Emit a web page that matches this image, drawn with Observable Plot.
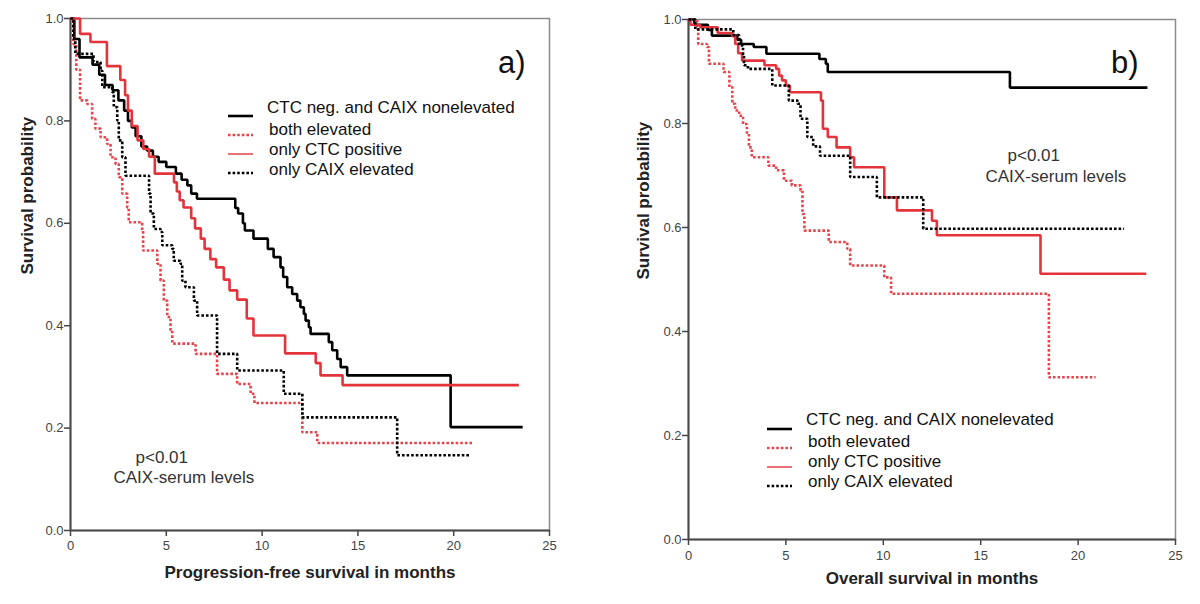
<!DOCTYPE html>
<html>
<head>
<meta charset="utf-8">
<script src="https://cdn.jsdelivr.net/npm/d3@7"></script>
<script src="https://cdn.jsdelivr.net/npm/@observablehq/plot@0.6"></script>
<style>
  html, body { margin: 0; padding: 0; background: #fff; }
  #wrap { position: relative; width: 1200px; height: 604px; background: #fff; overflow: hidden;
          font-family: "Liberation Sans", Arial, sans-serif; }
  .panel { position: absolute; top: 0; }
  .legend { position: absolute; font-size: 17px; color: #111; line-height: 1; }
  .legend .row { position: absolute; white-space: nowrap; }
  .legend svg { position: absolute; overflow: visible; }
</style>
</head>
<body>
<div id="wrap"></div>
<script>
// ---------- Data ----------
const groups = ["CTC neg. and CAIX nonelevated", "both elevated", "only CTC positive", "only CAIX elevated"];

// Panel a) Progression-free survival
const aNegT  = [0, 0.2, 0.47, 1.15, 1.5, 1.8, 2.2, 2.5, 2.8, 3.0, 3.2, 3.4, 3.7, 4.0, 4.3, 4.6, 5.0, 5.5, 5.8, 6.1, 6.3, 6.6, 8.6, 8.75, 9.0, 9.1, 9.55, 10.3, 10.6, 10.96, 11.1, 11.31, 11.57, 11.83, 12.0, 12.18, 12.27, 12.44, 12.53, 13.48, 13.66, 13.92, 14.1, 14.44, 19.84, 23.6];
const aNegS  = [1, 0.96, 0.924, 0.91, 0.89, 0.87, 0.86, 0.84, 0.82, 0.80, 0.787, 0.77, 0.75, 0.742, 0.73, 0.72, 0.71, 0.697, 0.685, 0.674, 0.658, 0.648, 0.63, 0.619, 0.60, 0.586, 0.57, 0.55, 0.534, 0.514, 0.495, 0.475, 0.462, 0.449, 0.436, 0.423, 0.41, 0.397, 0.384, 0.368, 0.352, 0.335, 0.319, 0.303, 0.202, 0.202];
const aBothT = [0, 0.15, 0.3, 0.5, 0.87, 1.13, 1.3, 1.57, 1.91, 2.09, 2.35, 2.52, 2.7, 2.96, 3.04, 3.74, 3.79, 4.53, 4.70, 4.87, 5.05, 5.22, 5.31, 6.53, 7.65, 8.7, 9.4, 9.6, 12.1, 12.88, 20.96];
const aBothS = [1, 0.95, 0.90, 0.84, 0.833, 0.804, 0.785, 0.768, 0.755, 0.729, 0.716, 0.690, 0.658, 0.631, 0.602, 0.586, 0.547, 0.521, 0.488, 0.449, 0.417, 0.391, 0.365, 0.345, 0.306, 0.286, 0.267, 0.249, 0.192, 0.171, 0.171];
const aCtcT  = [0, 0.5, 1.04, 1.9, 2.6, 2.85, 3.0, 3.2, 3.5, 3.8, 4.1, 4.4, 5.4, 5.55, 5.7, 5.9, 6.3, 6.5, 6.8, 7.0, 7.3, 7.6, 8.0, 8.3, 8.7, 9.2, 9.55, 11.2, 12.8, 13.05, 14.2, 23.4];
const aCtcS  = [1, 0.97, 0.954, 0.907, 0.88, 0.85, 0.82, 0.79, 0.762, 0.745, 0.73, 0.697, 0.68, 0.662, 0.645, 0.631, 0.61, 0.59, 0.57, 0.55, 0.53, 0.514, 0.49, 0.469, 0.451, 0.414, 0.381, 0.346, 0.327, 0.303, 0.284, 0.284];
const aCaixT = [0, 0.15, 0.25, 1.2, 1.57, 1.66, 2.18, 2.26, 2.44, 2.52, 2.7, 2.87, 4.1, 4.18, 4.35, 4.7, 4.79, 5.31, 5.39, 5.74, 5.83, 6.0, 6.44, 6.61, 7.65, 8.7, 11.13, 12.1, 17.05, 20.9];
const aCaixS = [1, 0.96, 0.931, 0.915, 0.898, 0.866, 0.856, 0.827, 0.801, 0.762, 0.729, 0.693, 0.658, 0.619, 0.589, 0.583, 0.557, 0.550, 0.527, 0.521, 0.488, 0.475, 0.449, 0.420, 0.345, 0.3125, 0.267, 0.221, 0.147, 0.147];

// Panel b) Overall survival
const bNegT  = [0, 0.3, 1.0, 1.2, 2.5, 2.7, 3.35, 4.0, 6.72, 7.05, 7.15, 16.5, 23.56];
const bNegS  = [1, 0.99, 0.98, 0.969, 0.961, 0.953, 0.947, 0.934, 0.924, 0.915, 0.899, 0.869, 0.869];
const bBothT = [0, 0.45, 0.5, 0.95, 1.05, 1.8, 2.1, 2.25, 2.4, 2.6, 2.8, 3.0, 3.1, 3.25, 4.1, 4.5, 4.9, 5.3, 5.75, 5.85, 5.95, 7.2, 8.15, 8.3, 10.05, 10.4, 18.5, 20.9];
const bBothS = [1, 0.981, 0.953, 0.947, 0.915, 0.899, 0.87, 0.838, 0.825, 0.815, 0.799, 0.78, 0.754, 0.735, 0.719, 0.71, 0.69, 0.681, 0.671, 0.626, 0.594, 0.572, 0.559, 0.527, 0.504, 0.4725, 0.312, 0.312];
const bCtcT  = [0, 0.1, 0.6, 1.5, 2.25, 2.4, 2.55, 2.75, 3.9, 4.5, 4.65, 4.8, 5.0, 5.2, 6.8, 6.9, 7.15, 7.6, 8.3, 8.5, 10.05, 10.7, 12.5, 12.75, 18.07, 23.5];
const bCtcS  = [1, 0.99, 0.985, 0.974, 0.968, 0.953, 0.935, 0.921, 0.912, 0.905, 0.892, 0.883, 0.873, 0.86, 0.844, 0.79, 0.774, 0.754, 0.735, 0.716, 0.658, 0.633, 0.613, 0.585, 0.511, 0.511];
const bCaixT = [0, 0.35, 2.3, 2.6, 2.8, 2.85, 3.05, 4.3, 5.15, 5.6, 5.75, 6.1, 6.4, 6.75, 8.3, 9.67, 12.05, 22.36];
const bCaixS = [1, 0.981, 0.97, 0.95, 0.93, 0.912, 0.905, 0.873, 0.844, 0.838, 0.809, 0.774, 0.756, 0.738, 0.697, 0.658, 0.5975, 0.5975];

const xTicks = [0, 5, 10, 15, 20, 25];
const yTicks = [0, 0.2, 0.4, 0.6, 0.8, 1.0];

// ---------- Styles ----------
const RED = "#e3343c";
const RED_DOT = "#e8444c";
const styles = [
  {stroke: "#000", dash: null, width: 2.6},       // CTC neg
  {stroke: RED_DOT, dash: "2.6,2", width: 2.6},   // both
  {stroke: RED, dash: null, width: 2.6},          // only CTC
  {stroke: "#000", dash: "2.6,2", width: 2.6}     // only CAIX
];

function series(T, S) { return T.map((t, i) => ({t, s: S[i]})); }

function panel(cfg) {
  const lines = cfg.series.map((d, i) => Plot.line(d, {
    x: "t", y: "s", curve: "step-after",
    stroke: styles[i].stroke, strokeWidth: styles[i].width,
    strokeDasharray: styles[i].dash, strokeLinecap: "butt", strokeLinejoin: "miter"
  }));
  return Plot.plot({
    width: 600, height: 604,
    marginLeft: cfg.ml, marginRight: cfg.mr, marginTop: cfg.mt, marginBottom: cfg.mb,
    x: {domain: [0, 25]},
    y: {domain: [0, 1]},
    style: {fontFamily: "'Liberation Sans', Arial, sans-serif", fontSize: "13px", color: "#444", background: "transparent"},
    marks: [
      Plot.frame({stroke: "#8a8a8a", strokeWidth: 1.5}),
      Plot.axisX({ticks: xTicks, tickSize: 6, tickPadding: cfg.xpad, label: null, fontSize: 13, strokeWidth: 1.5}),
      Plot.axisY({ticks: yTicks, tickSize: 6, tickPadding: 1, tickFormat: d3.format(".1f"), label: null, fontSize: 13, strokeWidth: 1.5}),
      Plot.ruleX([0], {stroke: "#4a4a4a", strokeWidth: 2}),
      Plot.ruleY([0], {stroke: "#4a4a4a", strokeWidth: 2}),
      ...lines,
      Plot.text([cfg.ytitle], {frameAnchor: "left", dx: cfg.ytdx, rotate: -90, fontWeight: "bold", fontSize: 17, fill: "#222"}),
      Plot.text([cfg.xtitle], {frameAnchor: "bottom", dy: cfg.xtdy, fontWeight: "bold", fontSize: 17, fill: "#222"}),
      Plot.text([cfg.tag], {frameAnchor: "top-right", textAnchor: "end", dx: cfg.tagdx, dy: cfg.tagdy, fontSize: 31, fill: "#111"}),
      Plot.text(["p<0.01"], {frameAnchor: cfg.pAnchor, textAnchor: "start", dx: cfg.p1dx, dy: cfg.p1dy, fontSize: 17, fill: "#333"}),
      Plot.text(["CAIX-serum levels"], {frameAnchor: cfg.pAnchor, textAnchor: "start", dx: cfg.p2dx, dy: cfg.p2dy, fontSize: 17, fill: "#333"})
    ]
  });
}

function legend(left, top, lineTop) {
  const el = document.createElement("div");
  el.className = "legend";
  el.style.left = left + "px";
  el.style.top = top + "px";
  const rowGap = [0, 22, 42, 62];
  const swGap = [0, 19, 38, 57];
  groups.forEach((g, i) => {
    const sv = d3.create("svg").attr("width", 26).attr("height", 6)
      .style("left", "0px").style("top", (lineTop + swGap[i] - 3) + "px");
    sv.append("line").attr("x1", 0).attr("x2", 25).attr("y1", 3).attr("y2", 3)
      .attr("stroke", styles[i].stroke)
      .attr("stroke-width", i === 2 ? 1.4 : (i === 0 ? 2.6 : 2.6))
      .attr("stroke-dasharray", styles[i].dash);
    el.appendChild(sv.node());
    const row = document.createElement("div");
    row.className = "row";
    row.textContent = g;
    row.style.left = (i === 0 ? 39 : 41) + "px";
    row.style.top = (rowGap[i] - 9) + "px";
    el.appendChild(row);
  });
  return el;
}

const wrap = document.getElementById("wrap");

const pa = panel({
  series: [series(aNegT, aNegS), series(aBothT, aBothS), series(aCtcT, aCtcS), series(aCaixT, aCaixS)],
  ml: 70, mr: 51, mt: 18, mb: 74, xpad: 4,
  ytitle: "Survival probability", ytdx: -43,
  xtitle: "Progression-free survival in months", xtdy: 47,
  tag: "a)", tagdx: -24, tagdy: 32,
  pAnchor: "bottom-left", p1dx: 65, p1dy: -68, p2dx: 43, p2dy: -48
});
const da = document.createElement("div"); da.className = "panel"; da.style.left = "0px";
da.appendChild(pa); wrap.appendChild(da);

const pb = panel({
  series: [series(bNegT, bNegS), series(bBothT, bBothS), series(bCtcT, bCtcS), series(bCaixT, bCaixS)],
  ml: 88, mr: 25, mt: 19, mb: 65, xpad: 5,
  ytitle: "Survival probability", ytdx: -45,
  xtitle: "Overall survival in months", xtdy: 44,
  tag: "b)", tagdx: -37, tagdy: 31,
  pAnchor: "top-left", p1dx: 319, p1dy: 129, p2dx: 297, p2dy: 150
});
const db = document.createElement("div"); db.className = "panel"; db.style.left = "600px";
db.appendChild(pb); wrap.appendChild(db);

wrap.appendChild(legend(228, 108, 8));
wrap.appendChild(legend(767, 420, 9));
</script>
</body>
</html>
